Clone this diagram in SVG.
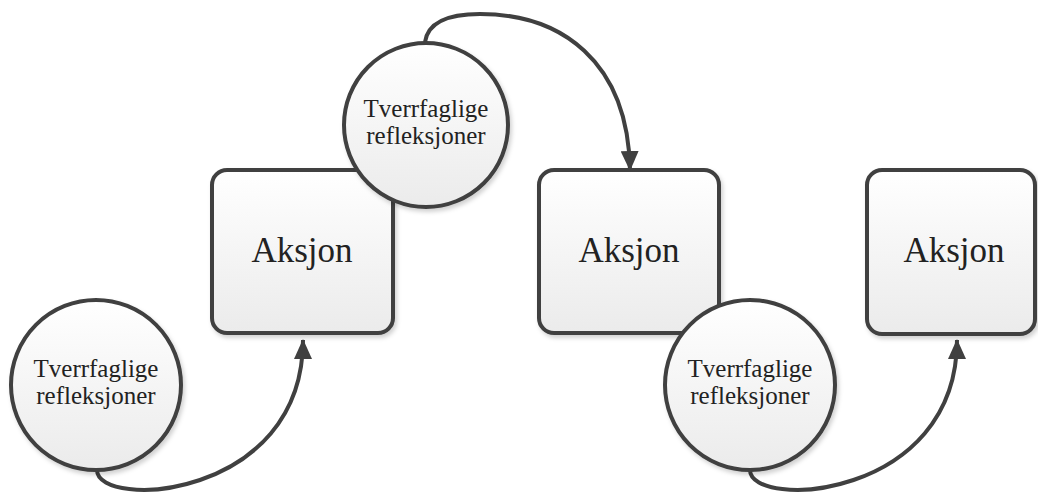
<svg xmlns="http://www.w3.org/2000/svg" width="1038" height="492" viewBox="0 0 1038 492">
<defs>
<linearGradient id="g" x1="0" y1="0" x2="0" y2="1">
<stop offset="0" stop-color="#ffffff"/>
<stop offset="1" stop-color="#ebebeb"/>
</linearGradient>
<filter id="sh" x="-10%" y="-10%" width="125%" height="125%">
<feDropShadow dx="2" dy="3" stdDeviation="2" flood-color="#000" flood-opacity="0.18"/>
</filter>
<marker id="arr" viewBox="0 0 20 18" refX="19" refY="9" markerWidth="20" markerHeight="18" markerUnits="userSpaceOnUse" orient="auto">
<path d="M0,0 L20,9 L0,18 Z" fill="#404040"/>
</marker>
<style>
.box{fill:url(#g);stroke:#404040;stroke-width:4;filter:url(#sh)}
.circ{fill:url(#g);stroke:#404040;stroke-width:4;filter:url(#sh)}
.lbl{font-family:"Liberation Serif","DejaVu Serif",serif;font-size:35px;fill:#222;text-anchor:middle}
.clbl{font-family:"Liberation Serif","DejaVu Serif",serif;font-size:25px;fill:#222;text-anchor:middle}
.con{fill:none;stroke:#404040;stroke-width:4;marker-end:url(#arr)}
</style>
</defs>
<g id="connectors">
<path class="con" d="M97 470 C97 510,303 500,303 340"/>
<path class="con" d="M425 42 C428 22,448 14,480 14 C560 14,628 60,630 170"/>
<path class="con" d="M750 470 C750 510,957 500,957 340"/>
</g>
<g id="box1">
<rect class="box" x="212" y="170" width="181" height="163" rx="15"/>
<text class="lbl" x="302" y="262">Aksjon</text>
</g>
<g id="box2">
<rect class="box" x="539" y="170" width="180" height="163" rx="15"/>
<text class="lbl" x="629" y="262">Aksjon</text>
</g>
<g id="box3">
<rect class="box" x="867" y="170" width="168" height="164" rx="15"/>
<text class="lbl" x="954" y="262">Aksjon</text>
</g>
<g id="circle1">
<circle class="circ" cx="426" cy="125" r="82"/>
<text class="clbl" x="426" y="117">Tverrfaglige</text>
<text class="clbl" x="426" y="144">refleksjoner</text>
</g>
<g id="circle2">
<circle class="circ" cx="96" cy="385" r="85"/>
<text class="clbl" x="96" y="377">Tverrfaglige</text>
<text class="clbl" x="96" y="404">refleksjoner</text>
</g>
<g id="circle3">
<circle class="circ" cx="750" cy="385" r="85"/>
<text class="clbl" x="750" y="377">Tverrfaglige</text>
<text class="clbl" x="750" y="404">refleksjoner</text>
</g>
</svg>
